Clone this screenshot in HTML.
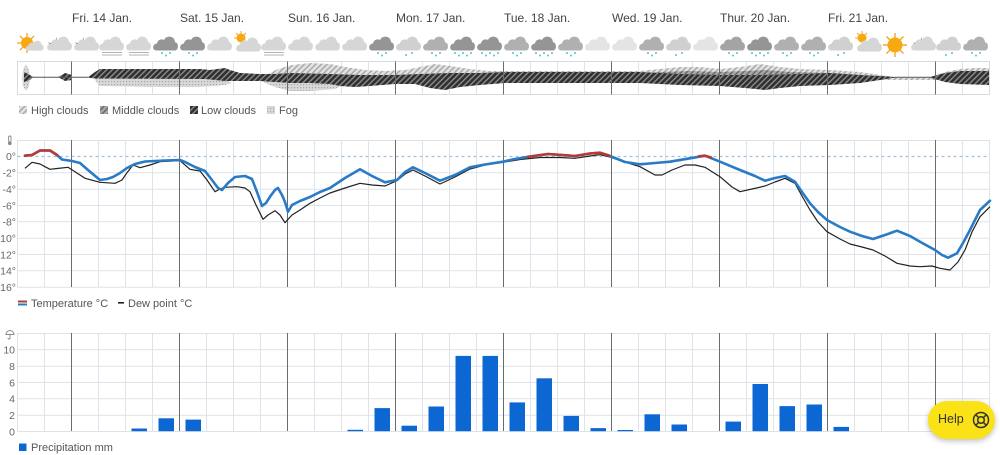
<!DOCTYPE html>
<html><head><meta charset="utf-8"><style>
html,body{margin:0;padding:0;background:#fff;width:1000px;height:455px;overflow:hidden}
svg{display:block;font-family:"Liberation Sans",Arial,sans-serif}
.day{font-size:12px;fill:#444}
.lg{font-size:11px;fill:#555}
.ax{font-size:10.5px;fill:#666}
.help{position:absolute;left:928px;top:401px;width:67px;height:38px;border-radius:19px;background:#fbe216;box-shadow:0 2px 6px rgba(0,0,0,.25);font-family:"Liberation Sans",Arial,sans-serif;font-size:12.5px;color:#333}
</style></head><body>
<svg width="1000" height="455" viewBox="0 0 1000 455" xmlns="http://www.w3.org/2000/svg">
<defs>
<g id="cl"><path d="M-9.5,6.5 C-14,6.5 -14,0 -9,-0.5 C-8.5,-4.5 -4.2,-5.5 -2,-4 C0,-8.8 8.6,-8.8 9,-1.8 C12.8,-1.8 13.3,6.5 8.5,6.5 Z"/></g>
<pattern id="pLow" width="4" height="4" patternUnits="userSpaceOnUse" patternTransform="rotate(45)"><rect width="4" height="4" fill="#2f2f2f"/><rect width="1.4" height="4" fill="#8c8c8c"/></pattern>
<pattern id="pHigh" width="4" height="4" patternUnits="userSpaceOnUse" patternTransform="rotate(45)"><rect width="4" height="4" fill="#e2e2e2"/><rect width="1.4" height="4" fill="#a6a6a6"/></pattern>
<pattern id="pMid" width="4" height="4" patternUnits="userSpaceOnUse" patternTransform="rotate(45)"><rect width="4" height="4" fill="#a8a8a8"/><rect width="1.4" height="4" fill="#666"/></pattern>
<pattern id="pFog" width="3" height="3" patternUnits="userSpaceOnUse"><rect width="3" height="3" fill="#d8d8d8"/><rect width="1.2" height="1.2" fill="#a8a8a8"/></pattern>
</defs>

<text class="day" x="72" y="22">Fri. 14 Jan.</text>
<text class="day" x="180" y="22">Sat. 15 Jan.</text>
<text class="day" x="288" y="22">Sun. 16 Jan.</text>
<text class="day" x="396" y="22">Mon. 17 Jan.</text>
<text class="day" x="504" y="22">Tue. 18 Jan.</text>
<text class="day" x="612" y="22">Wed. 19 Jan.</text>
<text class="day" x="720" y="22">Thur. 20 Jan.</text>
<text class="day" x="828" y="22">Fri. 21 Jan.</text>

<g>
<g stroke="#f5a623" stroke-width="1.3"><line x1="27" y1="33" x2="27" y2="53"/><line x1="17" y1="43" x2="37" y2="43"/><line x1="20" y1="36" x2="34" y2="50"/><line x1="20" y1="50" x2="34" y2="36"/></g>
<circle cx="27" cy="43" r="6" fill="#f7a90f"/>
<use href="#cl" transform="translate(35,46) scale(0.72)" fill="#d6d6d6"/>
<path d="M48,42 a5,5 0 0 0 8,-5 a4,4 0 0 1 -8,5z" fill="#444"/>
<use href="#cl" x="60" y="44" fill="#d6d6d6"/>
<path d="M75,42 a5,5 0 0 0 8,-5 a4,4 0 0 1 -8,5z" fill="#444"/>
<use href="#cl" x="87" y="44" fill="#d6d6d6"/>
<use href="#cl" x="112" y="44" fill="#d6d6d6"/>
<use href="#cl" x="139" y="44" fill="#d6d6d6"/>
<g stroke="#9a9a9a" stroke-width="0.7"><line x1="102" y1="52.5" x2="122" y2="52.5"/><line x1="102" y1="55" x2="122" y2="55"/><line x1="129" y1="52.5" x2="149" y2="52.5"/><line x1="129" y1="55" x2="149" y2="55"/><line x1="264" y1="52.5" x2="284" y2="52.5"/><line x1="264" y1="55" x2="284" y2="55"/></g>
<use href="#cl" x="166" y="44" fill="#959595"/>
<use href="#cl" x="193" y="44" fill="#959595"/>
<use href="#cl" x="220" y="44" fill="#d6d6d6"/>
<circle cx="241" cy="38" r="4.5" fill="#f7a90f"/>
<g stroke="#f5a623" stroke-width="1"><line x1="241" y1="31" x2="241" y2="35"/><line x1="234" y1="38" x2="237" y2="38"/><line x1="236" y1="33" x2="238" y2="35"/><line x1="246" y1="33" x2="244" y2="35"/></g>
<use href="#cl" x="249" y="45" fill="#d6d6d6"/>
<use href="#cl" x="274" y="44" fill="#d6d6d6"/>
<use href="#cl" x="301" y="44" fill="#d6d6d6"/>
<use href="#cl" x="328" y="44" fill="#d6d6d6"/>
<use href="#cl" x="355" y="44" fill="#d6d6d6"/>
<use href="#cl" x="382" y="44" fill="#959595"/>
<use href="#cl" x="409" y="44" fill="#d0d0d0"/>
<use href="#cl" x="436" y="44" fill="#b0b0b0"/>
<use href="#cl" x="463" y="44" fill="#959595"/>
<use href="#cl" x="490" y="44" fill="#959595"/>
<use href="#cl" x="517" y="44" fill="#b0b0b0"/>
<use href="#cl" x="544" y="44" fill="#959595"/>
<use href="#cl" x="571" y="44" fill="#b0b0b0"/>
<use href="#cl" x="598" y="44" fill="#e4e4e4"/>
<use href="#cl" x="625" y="44" fill="#e4e4e4"/>
<use href="#cl" x="652" y="44" fill="#b0b0b0"/>
<use href="#cl" x="679" y="44" fill="#d0d0d0"/>
<use href="#cl" x="706" y="44" fill="#e4e4e4"/>
<use href="#cl" x="733" y="44" fill="#a4a4a4"/>
<use href="#cl" x="760" y="44" fill="#959595"/>
<use href="#cl" x="787" y="44" fill="#b0b0b0"/>
<use href="#cl" x="814" y="44" fill="#b0b0b0"/>
<use href="#cl" x="841" y="44" fill="#d0d0d0"/>
<circle cx="862" cy="38" r="4.5" fill="#f7a90f"/>
<g stroke="#f5a623" stroke-width="1"><line x1="862" y1="31" x2="862" y2="35"/><line x1="855" y1="38" x2="858" y2="38"/><line x1="857" y1="33" x2="859" y2="35"/><line x1="867" y1="33" x2="865" y2="35"/></g>
<use href="#cl" x="870" y="45" fill="#d6d6d6"/>
<g stroke="#f5a623" stroke-width="1.4"><line x1="895" y1="33" x2="895" y2="57"/><line x1="883" y1="45" x2="907" y2="45"/><line x1="886.5" y1="36.5" x2="903.5" y2="53.5"/><line x1="886.5" y1="53.5" x2="903.5" y2="36.5"/></g>
<circle cx="895" cy="45" r="7.5" fill="#f7a90f"/>
<path d="M913,42 a5,5 0 0 0 8,-5 a4,4 0 0 1 -8,5z" fill="#444"/>
<use href="#cl" x="924" y="44" fill="#d6d6d6"/>
<use href="#cl" x="949" y="44" fill="#d0d0d0"/>
<use href="#cl" x="976" y="44" fill="#b0b0b0"/>
<g fill="#5bbfd6">
<circle cx="162" cy="53" r="1"/><circle cx="166" cy="55.5" r="1"/><circle cx="170" cy="53" r="1"/>
<circle cx="189" cy="53" r="1"/><circle cx="193" cy="55.5" r="1"/><circle cx="197" cy="53" r="1"/>
<circle cx="378" cy="53" r="1"/><circle cx="382" cy="55.5" r="1"/><circle cx="386" cy="53" r="1"/>
<circle cx="406" cy="55" r="1"/><circle cx="412" cy="53" r="1"/>
<circle cx="432" cy="53" r="1"/><circle cx="436" cy="55.5" r="1"/><circle cx="440" cy="53" r="1"/>
<circle cx="455" cy="53" r="1"/><circle cx="459" cy="55.5" r="1"/><circle cx="463" cy="53" r="1"/><circle cx="467" cy="55.5" r="1"/><circle cx="471" cy="53" r="1"/>
<circle cx="482" cy="53" r="1"/><circle cx="486" cy="55.5" r="1"/><circle cx="490" cy="53" r="1"/><circle cx="494" cy="55.5" r="1"/><circle cx="498" cy="53" r="1"/>
<circle cx="513" cy="53" r="1"/><circle cx="517" cy="55.5" r="1"/><circle cx="521" cy="53" r="1"/>
<circle cx="536" cy="53" r="1"/><circle cx="540" cy="55.5" r="1"/><circle cx="544" cy="53" r="1"/><circle cx="548" cy="55.5" r="1"/><circle cx="552" cy="53" r="1"/>
<circle cx="567" cy="53" r="1"/><circle cx="571" cy="55.5" r="1"/><circle cx="575" cy="53" r="1"/>
<circle cx="648" cy="53" r="1"/><circle cx="652" cy="55.5" r="1"/><circle cx="656" cy="53" r="1"/>
<circle cx="676" cy="55" r="1"/><circle cx="682" cy="53" r="1"/>
<circle cx="729" cy="53" r="1"/><circle cx="733" cy="55.5" r="1"/><circle cx="737" cy="53" r="1"/>
<circle cx="752" cy="53" r="1"/><circle cx="756" cy="55.5" r="1"/><circle cx="760" cy="53" r="1"/><circle cx="764" cy="55.5" r="1"/><circle cx="768" cy="53" r="1"/>
<circle cx="783" cy="53" r="1"/><circle cx="787" cy="55.5" r="1"/><circle cx="791" cy="53" r="1"/>
<circle cx="810" cy="53" r="1"/><circle cx="814" cy="55.5" r="1"/><circle cx="818" cy="53" r="1"/>
<circle cx="838" cy="55" r="1"/><circle cx="844" cy="53" r="1"/>
<circle cx="946" cy="55" r="1"/><circle cx="952" cy="53" r="1"/>
<circle cx="972" cy="53" r="1"/><circle cx="976" cy="55.5" r="1"/><circle cx="980" cy="53" r="1"/>
</g>
</g>

<rect x="17.5" y="61.5" width="972" height="33" fill="#fff" stroke="#d5dbe2"/>
<g stroke="#dde3ea" stroke-width="1">
<line x1="44.5" y1="61.5" x2="44.5" y2="94.5"/><line x1="98.5" y1="61.5" x2="98.5" y2="94.5"/><line x1="125.5" y1="61.5" x2="125.5" y2="94.5"/><line x1="152.5" y1="61.5" x2="152.5" y2="94.5"/>
<line x1="206.5" y1="61.5" x2="206.5" y2="94.5"/><line x1="233.5" y1="61.5" x2="233.5" y2="94.5"/><line x1="260.5" y1="61.5" x2="260.5" y2="94.5"/>
<line x1="314.5" y1="61.5" x2="314.5" y2="94.5"/><line x1="341.5" y1="61.5" x2="341.5" y2="94.5"/><line x1="368.5" y1="61.5" x2="368.5" y2="94.5"/>
<line x1="422.5" y1="61.5" x2="422.5" y2="94.5"/><line x1="449.5" y1="61.5" x2="449.5" y2="94.5"/><line x1="476.5" y1="61.5" x2="476.5" y2="94.5"/>
<line x1="530.5" y1="61.5" x2="530.5" y2="94.5"/><line x1="557.5" y1="61.5" x2="557.5" y2="94.5"/><line x1="584.5" y1="61.5" x2="584.5" y2="94.5"/>
<line x1="638.5" y1="61.5" x2="638.5" y2="94.5"/><line x1="665.5" y1="61.5" x2="665.5" y2="94.5"/><line x1="692.5" y1="61.5" x2="692.5" y2="94.5"/>
<line x1="746.5" y1="61.5" x2="746.5" y2="94.5"/><line x1="773.5" y1="61.5" x2="773.5" y2="94.5"/><line x1="800.5" y1="61.5" x2="800.5" y2="94.5"/>
<line x1="854.5" y1="61.5" x2="854.5" y2="94.5"/><line x1="881.5" y1="61.5" x2="881.5" y2="94.5"/><line x1="908.5" y1="61.5" x2="908.5" y2="94.5"/>
<line x1="962.5" y1="61.5" x2="962.5" y2="94.5"/>
</g>
<polygon fill="url(#pHigh)" points="262,80 268,74 278,69 292,65 310,63 330,64 345,67 365,70 385,71 405,70 420,67 435,64 450,66 470,69 490,71 505,71 560,71 640,71 660,69 680,67 700,67 720,69 740,67 760,64 780,67 800,69 830,70 860,72 880,75 895,77 930,77 945,72 960,69 975,68 989,68 989,80 262,80"/>
<polygon fill="url(#pMid)" points="640,74 660,72 690,71 720,72 745,71 765,70 790,72 830,73 860,75 880,77 830,78 640,78"/>
<polygon fill="url(#pFog)" points="95,78 205,78 225,80 232,83 225,85 200,87 150,87 100,86 95,80"/>
<polygon fill="url(#pFog)" points="262,80 290,82 330,82 345,84 335,89 310,91 290,91 275,87 265,83"/>
<polygon fill="url(#pFog)" points="26,64 29,70 30,78 29,86 26,91 23,86 22,78 23,70"/>
<polygon fill="url(#pLow)" points="88,77 95,72 100,69 200,69 210,70 225,68 230,70 240,73 260,74 275,74 290,73 330,74 360,75 395,75 420,74 450,73 480,73 505,72 560,72 640,72 680,74 720,75 760,75 800,74 830,73 860,75 880,76 895,77 930,77 945,73 960,71 989,71 989,85 960,84 945,82 930,77.6 895,77.6 880,80 860,83 830,85 800,86 780,88 765,90 745,88 720,86 680,85 640,83 560,83 505,83 480,85 460,87 445,90 430,88 415,84 395,84 370,86 355,87 340,86 330,84 310,83 290,83 275,82 260,81 240,81 225,81 205,79 100,78.5 95,78.5 88,77.6"/>
<polygon fill="url(#pLow)" points="24,72 30,75 33,77 30,80 24,82"/>
<polygon fill="url(#pLow)" points="58,77 65,73 72,75 72,80 65,81"/>
<line x1="30" y1="77.3" x2="88" y2="77.3" stroke="#555" stroke-width="1"/>
<line x1="895" y1="77.3" x2="932" y2="77.3" stroke="#666" stroke-width="1"/>
<g stroke="#6b6b6b" stroke-width="1">
<line x1="71.5" y1="61.5" x2="71.5" y2="94.5"/><line x1="179.5" y1="61.5" x2="179.5" y2="94.5"/><line x1="287.5" y1="61.5" x2="287.5" y2="94.5"/><line x1="395.5" y1="61.5" x2="395.5" y2="94.5"/><line x1="503.5" y1="61.5" x2="503.5" y2="94.5"/><line x1="611.5" y1="61.5" x2="611.5" y2="94.5"/><line x1="719.5" y1="61.5" x2="719.5" y2="94.5"/><line x1="827.5" y1="61.5" x2="827.5" y2="94.5"/><line x1="935.5" y1="61.5" x2="935.5" y2="94.5"/>
</g>

<rect x="19" y="106" width="8" height="8" fill="url(#pHigh)"/>
<text class="lg" x="31" y="114">High clouds</text>
<rect x="100" y="106" width="8" height="8" fill="url(#pMid)"/>
<text class="lg" x="112" y="114">Middle clouds</text>
<rect x="190" y="106" width="8" height="8" fill="url(#pLow)"/>
<text class="lg" x="201" y="114">Low clouds</text>
<rect x="267" y="106" width="8" height="8" fill="url(#pFog)"/>
<text class="lg" x="279" y="114">Fog</text>

<g stroke="#dde3ea" stroke-width="1">
<line x1="17.5" y1="140.5" x2="989.5" y2="140.5"/><line x1="17.5" y1="172.8" x2="989.5" y2="172.8"/><line x1="17.5" y1="189.2" x2="989.5" y2="189.2"/><line x1="17.5" y1="205.5" x2="989.5" y2="205.5"/><line x1="17.5" y1="221.8" x2="989.5" y2="221.8"/><line x1="17.5" y1="238.2" x2="989.5" y2="238.2"/><line x1="17.5" y1="254.5" x2="989.5" y2="254.5"/><line x1="17.5" y1="270.8" x2="989.5" y2="270.8"/><line x1="17.5" y1="287.2" x2="989.5" y2="287.2"/>
<line x1="17.5" y1="140" x2="17.5" y2="287"/><line x1="44.5" y1="140" x2="44.5" y2="287"/><line x1="98.5" y1="140" x2="98.5" y2="287"/><line x1="125.5" y1="140" x2="125.5" y2="287"/><line x1="152.5" y1="140" x2="152.5" y2="287"/>
<line x1="206.5" y1="140" x2="206.5" y2="287"/><line x1="233.5" y1="140" x2="233.5" y2="287"/><line x1="260.5" y1="140" x2="260.5" y2="287"/>
<line x1="314.5" y1="140" x2="314.5" y2="287"/><line x1="341.5" y1="140" x2="341.5" y2="287"/><line x1="368.5" y1="140" x2="368.5" y2="287"/>
<line x1="422.5" y1="140" x2="422.5" y2="287"/><line x1="449.5" y1="140" x2="449.5" y2="287"/><line x1="476.5" y1="140" x2="476.5" y2="287"/>
<line x1="530.5" y1="140" x2="530.5" y2="287"/><line x1="557.5" y1="140" x2="557.5" y2="287"/><line x1="584.5" y1="140" x2="584.5" y2="287"/>
<line x1="638.5" y1="140" x2="638.5" y2="287"/><line x1="665.5" y1="140" x2="665.5" y2="287"/><line x1="692.5" y1="140" x2="692.5" y2="287"/>
<line x1="746.5" y1="140" x2="746.5" y2="287"/><line x1="773.5" y1="140" x2="773.5" y2="287"/><line x1="800.5" y1="140" x2="800.5" y2="287"/>
<line x1="854.5" y1="140" x2="854.5" y2="287"/><line x1="881.5" y1="140" x2="881.5" y2="287"/><line x1="908.5" y1="140" x2="908.5" y2="287"/>
<line x1="962.5" y1="140" x2="962.5" y2="287"/><line x1="989.5" y1="140" x2="989.5" y2="287"/>
</g>
<line x1="17.5" y1="156.5" x2="989.5" y2="156.5" stroke="#a9bfd4" stroke-width="1.2" stroke-dasharray="3,3"/>
<g stroke="#6b6b6b" stroke-width="1">
<line x1="71.5" y1="140" x2="71.5" y2="287"/><line x1="179.5" y1="140" x2="179.5" y2="287"/><line x1="287.5" y1="140" x2="287.5" y2="287"/><line x1="395.5" y1="140" x2="395.5" y2="287"/><line x1="503.5" y1="140" x2="503.5" y2="287"/><line x1="611.5" y1="140" x2="611.5" y2="287"/><line x1="719.5" y1="140" x2="719.5" y2="287"/><line x1="827.5" y1="140" x2="827.5" y2="287"/><line x1="935.5" y1="140" x2="935.5" y2="287"/>
</g>
<rect x="8.6" y="136" width="2.4" height="6" rx="1.2" fill="none" stroke="#888" stroke-width="0.9"/>
<circle cx="9.8" cy="143.3" r="1.8" fill="#888"/>
<g class="ax" text-anchor="end">
<text x="16" y="160">0°</text><text x="16" y="176.5">-2°</text><text x="16" y="193">-4°</text><text x="16" y="209.3">-6°</text><text x="16" y="225.6">-8°</text><text x="16" y="242">-10°</text><text x="16" y="258.3">-12°</text><text x="16" y="274.6">-14°</text><text x="16" y="291">-16°</text>
</g>
<polyline fill="none" stroke="#222" stroke-width="1.2" stroke-linejoin="round" points="25,168.3 32,162.3 40,164 45,166.7 50,169.3 57,168.5 68,167.3 75,171.7 85,178.3 100,182.3 115,183.3 122,180 127,172.7 133,165 140,167.7 150,165 160,161.7 180,160.7 190,169.3 200,171 207,180 215,191.7 220,189 225,187.3 237,186.7 245,188 250,191.7 256,205 263,219.3 268,215 275,210.7 280,215 285,222.7 292,215 300,210 310,203.3 320,198 330,193 345,188 360,183.3 372,185 385,186 397,180.7 405,174 413,170 425,176 440,184 455,177 470,169 485,165 503,162.3 520,159.5 540,157.5 560,157.5 575,158.3 590,156 600,154.7 610,157 625,162 640,166.7 655,175 662,175 672,170 685,165 695,165 705,167.3 720,176.7 732,187 740,191.7 752,189 765,186 775,182 785,178.3 795,183.3 802,196 810,210 818,222 827,231.7 840,239 850,244 862,247 873,250 885,256 897,263.3 910,266 920,266.7 932,266 940,268.3 950,270 958,262 965,250 972,232 980,216.7 990,206.7"/>
<polyline fill="none" stroke="#2a7bc6" stroke-width="2.6" stroke-linejoin="round" stroke-linecap="round" points="25,155.7 32,155 40,150.5 50,150.5 57,155 62,159.5 72,161 80,163 88,170 100,180 107,179 113,177 120,173 127,168 135,164 145,161.5 155,161 165,160.5 180,160 185,162 195,167 205,171 212,180 218,188 222,190 228,183 235,177 245,176 252,179 257,192 262,206 266,203 270,196.7 275,190 278,188 282,195 285,202 288,211.7 292,205 300,201 310,197 320,192 330,188 345,178 360,169.3 372,176 385,182.3 397,180 405,172 413,167.3 425,173 440,180.7 455,175 470,167.3 485,164.5 503,161.7 515,159 530,156.5 548,154 562,155 575,156 590,153.5 600,152.7 610,156 625,162 640,164.3 655,163 670,161.7 690,158.3 705,155.7 720,161.7 740,170 755,176 765,180.7 775,178 785,176 795,181.7 802,192 810,203.3 818,212 827,220 840,227 850,231.7 862,236 873,239 885,235 897,230.7 910,236 920,241.7 935,250 942,255 948,257.7 957,253.3 963,243 970,230 980,210 990,200.7"/>
<g fill="none" stroke="#b83a34" stroke-width="2.6" stroke-linejoin="round" stroke-linecap="round">
<polyline points="25,155.7 32,155 40,150.5 50,150.5 57,155"/>
<polyline points="528,156.7 530,156.5 548,154 562,155 575,156 590,153.5 600,152.7 609,155.5"/>
<polyline points="699,156.3 705,155.7 711,157.5"/>
</g>
<rect x="18" y="300.5" width="9" height="2" fill="#b83a34"/>
<rect x="18" y="303.5" width="9" height="2" fill="#2a7bc6"/>
<text class="lg" x="31" y="307">Temperature °C</text>
<rect x="118" y="302" width="6" height="1.6" fill="#222"/>
<text class="lg" x="128" y="307">Dew point °C</text>

<g stroke="#dde3ea" stroke-width="1">
<line x1="17.5" y1="333.5" x2="989.5" y2="333.5"/><line x1="17.5" y1="349.8" x2="989.5" y2="349.8"/><line x1="17.5" y1="366.2" x2="989.5" y2="366.2"/><line x1="17.5" y1="382.5" x2="989.5" y2="382.5"/><line x1="17.5" y1="398.8" x2="989.5" y2="398.8"/><line x1="17.5" y1="415.2" x2="989.5" y2="415.2"/><line x1="17.5" y1="431.5" x2="989.5" y2="431.5"/>
<line x1="17.5" y1="333" x2="17.5" y2="431"/><line x1="44.5" y1="333" x2="44.5" y2="431"/><line x1="98.5" y1="333" x2="98.5" y2="431"/><line x1="125.5" y1="333" x2="125.5" y2="431"/><line x1="152.5" y1="333" x2="152.5" y2="431"/>
<line x1="206.5" y1="333" x2="206.5" y2="431"/><line x1="233.5" y1="333" x2="233.5" y2="431"/><line x1="260.5" y1="333" x2="260.5" y2="431"/>
<line x1="314.5" y1="333" x2="314.5" y2="431"/><line x1="341.5" y1="333" x2="341.5" y2="431"/><line x1="368.5" y1="333" x2="368.5" y2="431"/>
<line x1="422.5" y1="333" x2="422.5" y2="431"/><line x1="449.5" y1="333" x2="449.5" y2="431"/><line x1="476.5" y1="333" x2="476.5" y2="431"/>
<line x1="530.5" y1="333" x2="530.5" y2="431"/><line x1="557.5" y1="333" x2="557.5" y2="431"/><line x1="584.5" y1="333" x2="584.5" y2="431"/>
<line x1="638.5" y1="333" x2="638.5" y2="431"/><line x1="665.5" y1="333" x2="665.5" y2="431"/><line x1="692.5" y1="333" x2="692.5" y2="431"/>
<line x1="746.5" y1="333" x2="746.5" y2="431"/><line x1="773.5" y1="333" x2="773.5" y2="431"/><line x1="800.5" y1="333" x2="800.5" y2="431"/>
<line x1="854.5" y1="333" x2="854.5" y2="431"/><line x1="881.5" y1="333" x2="881.5" y2="431"/><line x1="908.5" y1="333" x2="908.5" y2="431"/>
<line x1="962.5" y1="333" x2="962.5" y2="431"/><line x1="989.5" y1="333" x2="989.5" y2="431"/>
</g>
<g stroke="#6b6b6b" stroke-width="1">
<line x1="71.5" y1="333" x2="71.5" y2="431"/><line x1="179.5" y1="333" x2="179.5" y2="431"/><line x1="287.5" y1="333" x2="287.5" y2="431"/><line x1="395.5" y1="333" x2="395.5" y2="431"/><line x1="503.5" y1="333" x2="503.5" y2="431"/><line x1="611.5" y1="333" x2="611.5" y2="431"/><line x1="719.5" y1="333" x2="719.5" y2="431"/><line x1="827.5" y1="333" x2="827.5" y2="431"/><line x1="935.5" y1="333" x2="935.5" y2="431"/>
</g>
<path d="M6,334.5 a4,4 0 0 1 8,0 z" fill="none" stroke="#888" stroke-width="0.9"/>
<path d="M10,334.5 v3.5 a1,1 0 0 1 -2,0" fill="none" stroke="#888" stroke-width="0.9"/>
<g class="ax" text-anchor="end">
<text x="15" y="353.5">10</text><text x="15" y="370">8</text><text x="15" y="386.3">6</text><text x="15" y="402.6">4</text><text x="15" y="419">2</text><text x="15" y="435.3">0</text>
</g>
<g fill="#0d67d3">
<rect x="131.5" y="428.5" width="15.5" height="2.7"/>
<rect x="158.5" y="418.3" width="15.5" height="12.9"/>
<rect x="185.5" y="419.6" width="15.5" height="11.6"/>
<rect x="347.5" y="429.8" width="15.5" height="1.4"/>
<rect x="374.5" y="408.1" width="15.5" height="23.1"/>
<rect x="401.5" y="425.7" width="15.5" height="5.5"/>
<rect x="428.5" y="406.5" width="15.5" height="24.7"/>
<rect x="455.5" y="355.9" width="15.5" height="75.3"/>
<rect x="482.5" y="355.9" width="15.5" height="75.3"/>
<rect x="509.5" y="402.4" width="15.5" height="28.8"/>
<rect x="536.5" y="378.3" width="15.5" height="52.9"/>
<rect x="563.5" y="415.9" width="15.5" height="15.3"/>
<rect x="590.5" y="428.1" width="15.5" height="3.1"/>
<rect x="617.5" y="430" width="15.5" height="1.2"/>
<rect x="644.5" y="414.3" width="15.5" height="16.9"/>
<rect x="671.5" y="424.5" width="15.5" height="6.7"/>
<rect x="725.5" y="421.6" width="15.5" height="9.6"/>
<rect x="752.5" y="384" width="15.5" height="47.2"/>
<rect x="779.5" y="406.1" width="15.5" height="25.1"/>
<rect x="806.5" y="404.5" width="15.5" height="26.7"/>
<rect x="833.5" y="426.9" width="15.5" height="4.3"/>
</g>
<rect x="19" y="443.5" width="7.5" height="7.5" fill="#0d67d3"/>
<text class="lg" x="31" y="451">Precipitation mm</text>
</svg>
<div class="help"><span style="position:absolute;left:10px;top:11px">Help</span>
<svg style="position:absolute;left:43px;top:9px" width="20" height="20" viewBox="0 0 20 20"><g fill="none" stroke="#333" stroke-width="1.5"><circle cx="10" cy="10" r="7.5"/><circle cx="10" cy="10" r="3.3"/><line x1="7.6" y1="7.6" x2="4.7" y2="4.7"/><line x1="12.4" y1="7.6" x2="15.3" y2="4.7"/><line x1="7.6" y1="12.4" x2="4.7" y2="15.3"/><line x1="12.4" y1="12.4" x2="15.3" y2="15.3"/></g></svg>
</div>
</body></html>
